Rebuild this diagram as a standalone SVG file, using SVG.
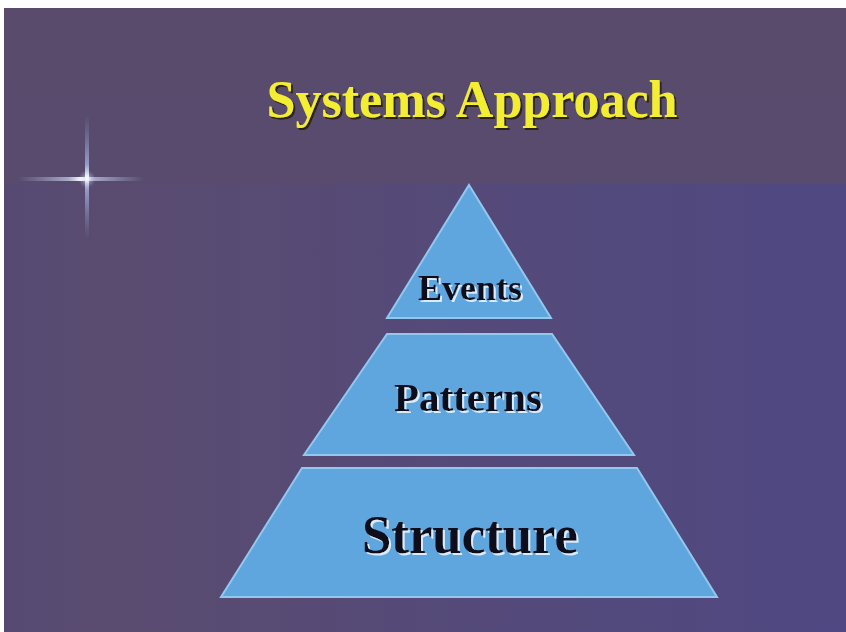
<svg xmlns="http://www.w3.org/2000/svg" width="846" height="632" viewBox="0 0 846 632">
<defs>
<linearGradient id="bgLow" x1="0" y1="0" x2="1" y2="0">
<stop offset="0" stop-color="#564A74"/>
<stop offset="0.12" stop-color="#5A4C70"/>
<stop offset="0.5" stop-color="#554A78"/>
<stop offset="1" stop-color="#4F4882"/>
</linearGradient>
<linearGradient id="bgTop" x1="0" y1="0" x2="0" y2="1">
<stop offset="0" stop-color="#5A4B6C"/>
<stop offset="1" stop-color="#584B6E"/>
</linearGradient>
<linearGradient id="hStar" x1="0" y1="0" x2="1" y2="0">
<stop offset="0" stop-color="#B8C4E8" stop-opacity="0"/>
<stop offset="0.4" stop-color="#C8D2F0" stop-opacity="0.7"/>
<stop offset="0.5" stop-color="#FFFFFF" stop-opacity="1"/>
<stop offset="0.6" stop-color="#C8D2F0" stop-opacity="0.7"/>
<stop offset="1" stop-color="#B8C4E8" stop-opacity="0"/>
</linearGradient>
<linearGradient id="vStar" x1="0" y1="0" x2="0" y2="1">
<stop offset="0" stop-color="#8FA2DC" stop-opacity="0"/>
<stop offset="0.4" stop-color="#B0C0EC" stop-opacity="0.7"/>
<stop offset="0.5" stop-color="#FFFFFF" stop-opacity="1"/>
<stop offset="0.6" stop-color="#B0C0EC" stop-opacity="0.7"/>
<stop offset="1" stop-color="#8FA2DC" stop-opacity="0"/>
</linearGradient>
<radialGradient id="glow">
<stop offset="0" stop-color="#FFFFFF" stop-opacity="0.9"/>
<stop offset="0.4" stop-color="#E0E6FF" stop-opacity="0.4"/>
<stop offset="1" stop-color="#A0B0E0" stop-opacity="0"/>
</radialGradient>
<filter id="shDark" x="-5%" y="-20%" width="110%" height="140%">
<feDropShadow dx="2" dy="2" stdDeviation="0.6" flood-color="#2A2418" flood-opacity="1"/>
</filter>
<filter id="shLight" x="-5%" y="-20%" width="110%" height="140%">
<feDropShadow dx="2" dy="2" stdDeviation="0.6" flood-color="#DCEBFA" flood-opacity="1"/>
</filter>
</defs>
<style>
.tier { fill: #5FA6DE; stroke: #93C8EE; stroke-width: 2; stroke-linejoin: miter; }
.lbl { font-family: "Liberation Serif", "Times New Roman", serif; font-weight: bold; text-anchor: middle; fill: #0B0F1A; filter: url(#shLight); }
.ttl { font-family: "Liberation Serif", "Times New Roman", serif; font-weight: bold; text-anchor: middle; fill: #F4EE30; filter: url(#shDark); }
</style>
<rect x="0" y="0" width="846" height="632" fill="#FFFFFF"/>
<rect x="4" y="8" width="842" height="624" fill="url(#bgLow)"/>
<rect x="4" y="8" width="842" height="176" fill="url(#bgTop)"/>
<g id="sparkle">
<rect x="18" y="177" width="126" height="4" fill="url(#hStar)"/>
<rect x="85" y="115" width="4" height="124" fill="url(#vStar)"/>
<circle cx="87" cy="179" r="9" fill="url(#glow)"/>
</g>
<g id="title">
<text class="ttl" x="472" y="117" font-size="52">Systems Approach</text>
</g>
<g id="connectors"/>
<g id="events">
<polygon class="tier" points="469,185 551,318 387,318"/>
<text class="lbl" x="470" y="300" font-size="36">Events</text>
</g>
<g id="patterns">
<polygon class="tier" points="387,334 552,334 634,455 304,455"/>
<text class="lbl" x="468" y="411" font-size="41">Patterns</text>
</g>
<g id="structure">
<polygon class="tier" points="302,468 637,468 717,597 221,597"/>
<text class="lbl" x="470" y="553" font-size="55" textLength="216" lengthAdjust="spacingAndGlyphs">Structure</text>
</g>
</svg>
